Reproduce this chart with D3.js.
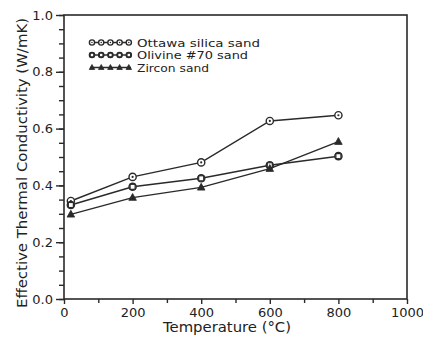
<!DOCTYPE html>
<html>
<head>
<meta charset="utf-8">
<script src="https://cdn.jsdelivr.net/npm/d3@7"></script>
<style>
  html, body { margin: 0; padding: 0; background: #fff; }
  svg { display: block; }
  text { font-family: "DejaVu Sans", sans-serif; fill: #222; }
</style>
</head>
<body>
<svg id="chart" width="423" height="337"></svg>
<script>
// Temperatures (°C) at which conductivity was measured
const temperatures = [20, 200, 400, 600, 800];

// Effective thermal conductivity (W/mK) for each sand
const ottawaSilica = [0.345, 0.430, 0.481, 0.627, 0.647];
const olivine70 = [0.331, 0.395, 0.425, 0.471, 0.503];
const zirconSand = [0.298, 0.357, 0.393, 0.459, 0.554];

const seriesNames = ["Ottawa  silica  sand", "Olivine  #70  sand", "Zircon  sand"];
const seriesValues = [ottawaSilica, olivine70, zirconSand];
const seriesMarkers = ["circle", "circleBar", "triangle"];

const xTicks = [0, 200, 400, 600, 800, 1000];
const yTicks = [0.0, 0.2, 0.4, 0.6, 0.8, 1.0];

const ink = "#2a2a2a";
const svg = d3.select("#chart");
const margin = { left: 64, right: 16, top: 15, bottom: 38 };
const W = 423, H = 337;

const x = d3.scaleLinear().domain([0, 1000]).range([margin.left, W - margin.right]);
const y = d3.scaleLinear().domain([0, 1]).range([H - margin.bottom, margin.top]);

// Frame
svg.append("rect")
  .attr("x", x(0)).attr("y", y(1))
  .attr("width", x(1000) - x(0)).attr("height", y(0) - y(1))
  .attr("fill", "none").attr("stroke", ink).attr("stroke-width", 1.6);

// Y axis: major ticks with labels, minor ticks every 0.05
svg.append("g").attr("transform", `translate(${x(0)},0)`)
  .call(d3.axisLeft(y).tickValues(yTicks).tickFormat(d3.format(".1f")).tickSize(8).tickPadding(3));
svg.append("g").attr("transform", `translate(${x(0)},0)`)
  .call(d3.axisLeft(y).tickValues(d3.range(0, 1.0001, 0.05)).tickFormat("").tickSize(5));

// X axis: major ticks with labels, minor ticks every 100
svg.append("g").attr("transform", `translate(0,${y(0)})`)
  .call(d3.axisBottom(x).tickValues(xTicks).tickFormat(d3.format("d")).tickSize(5).tickPadding(4));
svg.append("g").attr("transform", `translate(0,${y(0)})`)
  .call(d3.axisBottom(x).tickValues(d3.range(100, 1000, 200)).tickFormat("").tickSize(4));

svg.selectAll(".domain").remove();
svg.selectAll(".tick line").attr("stroke", ink).attr("stroke-width", 1.4);
svg.selectAll(".tick text").style("font-size", "13px").attr("fill", ink);

// Axis titles
svg.append("text")
  .attr("transform", `translate(27,${(y(0) + y(1)) / 2 + 6}) rotate(-90)`)
  .attr("text-anchor", "middle")
  .attr("textLength", 290).attr("lengthAdjust", "spacingAndGlyphs")
  .style("font-size", "14px")
  .text("Effective Thermal Conductivity (W/mK)");

svg.append("text")
  .attr("x", 227).attr("y", 332)
  .attr("text-anchor", "middle")
  .attr("textLength", 128).attr("lengthAdjust", "spacingAndGlyphs")
  .style("font-size", "14px")
  .text("Temperature (\u00B0C)");

// Marker drawing
function drawMarker(g, type, cx, cy, r) {
  if (type === "triangle") {
    const h = r * 1.9;
    g.append("path")
      .attr("d", `M${cx},${cy - h * 0.6} L${cx + r * 1.05},${cy + h * 0.4} L${cx - r * 1.05},${cy + h * 0.4} Z`)
      .attr("fill", ink).attr("stroke", ink).attr("stroke-width", 0.8);
  } else {
    g.append("circle").attr("cx", cx).attr("cy", cy).attr("r", r)
      .attr("fill", "#fff").attr("stroke", ink).attr("stroke-width", 1.4);
    if (type === "circle") {
      g.append("circle").attr("cx", cx).attr("cy", cy).attr("r", r * 0.3).attr("fill", ink);
    } else {
      g.append("rect").attr("x", cx - r * 0.7).attr("y", cy - r * 0.7)
        .attr("width", r * 1.4).attr("height", r * 1.4)
        .attr("fill", "none").attr("stroke", ink).attr("stroke-width", 1.2);
    }
  }
}

const line = d3.line().x((d, i) => x(temperatures[i])).y(d => y(d));

seriesValues.forEach((vals, s) => {
  const g = svg.append("g");
  g.append("path").datum(vals)
    .attr("d", line)
    .attr("fill", "none").attr("stroke", ink).attr("stroke-width", 1.5);
  vals.forEach((v, i) => drawMarker(g, seriesMarkers[s], x(temperatures[i]), y(v), 3.6));
});

// Legend
const legendY = [42.5, 55, 67.5];
seriesNames.forEach((name, s) => {
  const g = svg.append("g");
  const ly = legendY[s];
  g.append("line").attr("x1", 90).attr("x2", 131).attr("y1", ly).attr("y2", ly)
    .attr("stroke", ink).attr("stroke-width", 1.3);
  d3.range(5).forEach(k => drawMarker(g, seriesMarkers[s], 92 + k * 9.2, ly, 2.6));
  g.append("text").attr("x", 137).attr("y", ly + 4)
    .style("font-size", "11px")
    .attr("textLength", s === 2 ? 72 : (s === 0 ? 123 : 111)).attr("lengthAdjust", "spacingAndGlyphs")
    .text(name);
});
</script>
</body>
</html>
